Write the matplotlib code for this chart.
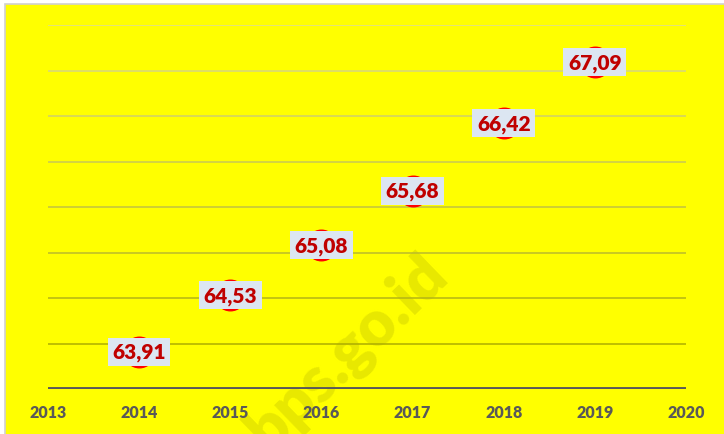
import matplotlib.pyplot as plt
from matplotlib.patches import Rectangle

# data
years = [2014, 2015, 2016, 2017, 2018, 2019]
values = [63.91, 64.53, 65.08, 65.68, 66.42, 67.09]
labels = ['63,91', '64,53', '65,08', '65,68', '66,42', '67,09']
xticks = [2013, 2014, 2015, 2016, 2017, 2018, 2019, 2020]
grid_levels = [64.0, 64.5, 65.0, 65.5, 66.0, 66.5, 67.0, 67.5]

plt.rcParams['font.family'] = ['Lato', 'DejaVu Sans']

fig = plt.figure(figsize=(7.24, 4.35), dpi=100)
fig.patch.set_facecolor('white')

# yellow chart area with thin grey frame
fig.patches.append(Rectangle((5 / 724, -0.01), 1.0, 1 - 5 / 435 + 0.01, transform=fig.transFigure,
                             facecolor='#ffff00', edgecolor='#d0d0d0', linewidth=1.2, zorder=-5))

ax = fig.add_axes([48 / 724, 1 - 390 / 435, 638 / 724, 364 / 435])
ax.set_facecolor('none')
ax.set_zorder(2)
ax.set_xlim(2013, 2020)
ax.set_ylim(63.5, 67.5)

# gridlines, darker near the bottom, fading to grey at the top
for i, g in enumerate(grid_levels):
    t = i / (len(grid_levels) - 1)
    c = (0.68 + 0.18 * t, 0.68 + 0.18 * t, 0.0 + 0.6 * t)
    ax.axhline(g, color=c, linewidth=1.1, zorder=1)

ax.axhline(63.5, color='#595959', linewidth=2.8, zorder=2)

# watermark
fig.text(0.48, 0.19, 'bps.go.id', rotation=44, fontsize=45, fontweight='heavy',
         color='#e8e800', ha='center', va='center', zorder=1)

ax.plot(years, values, linestyle='none', marker='o', markersize=22,
        markerfacecolor='#ff0000', markeredgecolor='#ff0000', zorder=3)

for x, y, s in zip(years, values, labels):
    ax.text(x, y, s, ha='center', va='center', fontsize=15, fontweight='heavy', color='#c00000',
            zorder=4, bbox=dict(boxstyle='square,pad=0.22', facecolor='#dce6f2', edgecolor='none'))

for sp in ax.spines.values():
    sp.set_visible(False)
ax.set_yticks([])
ax.set_xticks(xticks)
ax.set_xticklabels([str(v) for v in xticks], fontsize=11.5, fontweight='heavy', color='#595959')
ax.tick_params(axis='x', length=0, pad=11)

fig.savefig('out.png', dpi=100)
